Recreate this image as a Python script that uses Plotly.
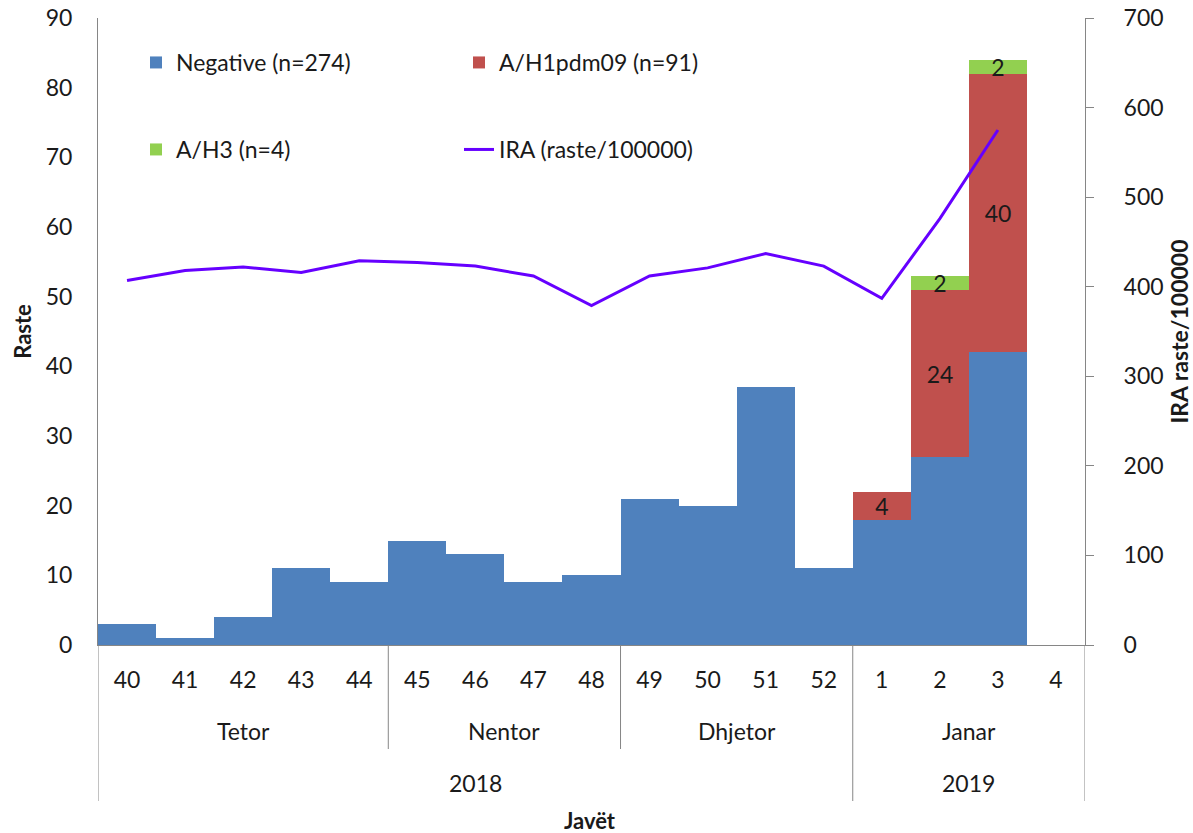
import plotly.graph_objects as go

weeks = ["40", "41", "42", "43", "44", "45", "46", "47", "48",
         "49", "50", "51", "52", "1", "2", "3", "4"]
negative = [3, 1, 4, 11, 9, 15, 13, 9, 10, 21, 20, 37, 11, 18, 27, 42, 0]
h1pdm09 = [0, 0, 0, 0, 0, 0, 0, 0, 0, 0, 0, 0, 0, 4, 24, 40, 0]
h3 = [0, 0, 0, 0, 0, 0, 0, 0, 0, 0, 0, 0, 0, 0, 2, 2, 0]
ira = [407, 418, 422, 416, 429, 427, 423, 412, 379, 412, 421, 437, 423,
       387, 476, 575, None]

months = ["Tetor", "Nentor", "Dhjetor", "Janar"]
month_sizes = [5, 4, 4, 4]
years = ["2018", "2019"]
year_sizes = [13, 4]

FONT = "Lato"
FS = 23
TXT = "#1a1a1a"
AXC = "#868686"

def lbl(vals):
    return [str(v) if v else "" for v in vals]

fig = go.Figure()
fig.add_trace(go.Bar(x=weeks, y=negative, name="Negative (n=274)",
                     marker=dict(color="#4F81BD", line=dict(width=0)),
                     legend="legend"))
fig.add_trace(go.Bar(x=weeks, y=h1pdm09, name="A/H1pdm09 (n=91)",
                     marker=dict(color="#C0504D", line=dict(width=0)),
                     text=lbl(h1pdm09), textposition="inside", textangle=0,
                     insidetextanchor="middle", constraintext="none",
                     textfont=dict(family=FONT, size=FS, color=TXT),
                     legend="legend"))
fig.add_trace(go.Bar(x=weeks, y=h3, name="A/H3 (n=4)",
                     marker=dict(color="#92D050", line=dict(width=0)),
                     text=lbl(h3), textposition="inside", textangle=0,
                     insidetextanchor="middle", constraintext="none",
                     textfont=dict(family=FONT, size=FS, color=TXT),
                     legend="legend2"))
fig.add_trace(go.Scatter(x=weeks, y=ira, name="IRA (raste/100000)", yaxis="y2",
                         mode="lines", line=dict(color="#6600FF", width=3),
                         legend="legend2"))

W, H = 1193, 833
plot_left, plot_right = 98, 1085
plot_top, plot_bottom = 18, 645
ph = plot_bottom - plot_top
pw = plot_right - plot_left

def py(pix):
    return (plot_bottom - pix) / ph

def px(pix):
    return (pix - plot_left) / pw

shapes = []
annotations = []
start = 0
month_bounds = []
for m, n in zip(months, month_sizes):
    annotations.append(dict(x=start + (n - 1) / 2, y=py(731), xref="x", yref="paper",
                            text=m, showarrow=False, yanchor="middle",
                            font=dict(family=FONT, size=FS, color=TXT)))
    month_bounds.append(start - 0.5)
    start += n
month_bounds.append(start - 0.5)

start = 0
year_bounds = []
for yv, n in zip(years, year_sizes):
    annotations.append(dict(x=start + (n - 1) / 2, y=py(783), xref="x", yref="paper",
                            text=yv, showarrow=False, yanchor="middle",
                            font=dict(family=FONT, size=FS, color=TXT)))
    year_bounds.append(start - 0.5)
    start += n
year_bounds.append(start - 0.5)

for b in month_bounds:
    if b in year_bounds:
        continue
    shapes.append(dict(type="line", xref="x", yref="paper", x0=b, x1=b,
                       y0=0, y1=py(749), line=dict(color=AXC, width=1)))
for b in year_bounds:
    shapes.append(dict(type="line", xref="x", yref="paper", x0=b, x1=b,
                       y0=0, y1=py(801), line=dict(color=AXC, width=1)))

annotations.append(dict(x=px(590), y=py(820), xref="paper", yref="paper",
                        text="<b>Javët</b>", showarrow=False, yanchor="middle",
                        font=dict(family=FONT, size=22, color=TXT)))

fig.update_layout(
    width=W, height=H,
    margin=dict(l=plot_left, r=W - plot_right, t=plot_top,
                b=H - plot_bottom, autoexpand=False),
    paper_bgcolor="white", plot_bgcolor="white",
    barmode="stack", bargap=0,
    font=dict(family=FONT, size=FS, color=TXT),
    xaxis=dict(type="category", categoryorder="array", categoryarray=weeks,
               showline=True, linecolor=AXC, linewidth=1, showgrid=False,
               ticks="outside", ticklen=14, tickcolor="rgba(0,0,0,0)",
               tickfont=dict(family=FONT, size=FS, color=TXT),
               range=[-0.5, len(weeks) - 0.5]),
    yaxis=dict(range=[0, 90], dtick=10, showline=True, linecolor=AXC, linewidth=1,
               showgrid=False, zeroline=False, ticks="", ticklabelstandoff=20,
               tickfont=dict(family=FONT, size=FS, color=TXT),
               title=dict(text="<b>Raste</b>", standoff=8,
                          font=dict(family=FONT, size=22, color=TXT))),
    yaxis2=dict(range=[0, 700], dtick=100, overlaying="y", side="right",
                showline=True, linecolor=AXC, linewidth=1, showgrid=False,
                zeroline=False, ticks="outside", ticklen=8, tickcolor=AXC,
                ticklabelstandoff=25,
                tickfont=dict(family=FONT, size=FS, color=TXT),
                title=dict(text="<b>IRA raste/100000</b>", standoff=14,
                           font=dict(family=FONT, size=23, color=TXT))),
    legend=dict(orientation="h", x=px(136), xanchor="left", y=py(41), yanchor="top",
                entrywidth=278, entrywidthmode="pixels",
                bgcolor="rgba(0,0,0,0)", font=dict(family=FONT, size=FS, color=TXT),
                traceorder="normal"),
    legend2=dict(orientation="h", x=px(136), xanchor="left", y=py(128), yanchor="top",
                 entrywidth=278, entrywidthmode="pixels",
                 bgcolor="rgba(0,0,0,0)", font=dict(family=FONT, size=FS, color=TXT),
                 traceorder="normal"),
    shapes=shapes, annotations=annotations,
    showlegend=True,
)

fig.write_html("out.html", config={"displayModeBar": False},
               post_script="document.body.style.margin='0';document.body.style.overflow='hidden';")
